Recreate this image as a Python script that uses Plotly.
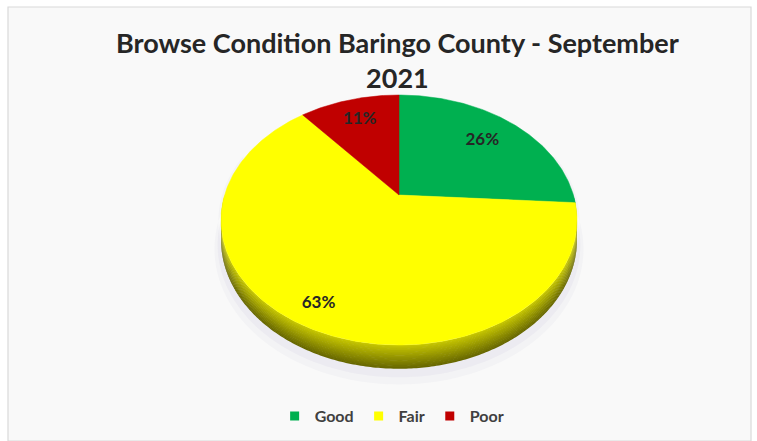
import numpy as np
import plotly.graph_objects as go

# Browse condition shares, Baringo County, September 2021
categories = ["Good", "Fair", "Poor"]
shares = [26, 63, 11]

# slice colours (top face) and the rim-to-base tones of their side walls
top_colors = ["#00b050", "#ffff00", "#c00000"]
wall_tones = [((0, 150, 68), (0, 100, 46)),
              ((196, 196, 0), (104, 104, 0)),
              ((160, 0, 0), (100, 0, 0))]
N_BANDS = 14

TITLE = "Browse Condition Baringo County - September<br>2021"

# 3D pie geometry in page pixels (perspective view of a tilted disc)
W, H = 757, 441
CX, CY = 399.0, 195.0      # where the slices meet
SX, SV = 174.4, 120.0      # horizontal / vertical scale of the disc
K = 0.2                    # perspective strength
DEPTH = 19.0               # thickness of the disc
START = 90.0               # first slice starts at 12 o'clock, clockwise
LABEL_R = [0.72, 0.86, 0.76]


def project(r, t_deg, drop=0.0):
    t = np.radians(t_deg)
    X = r * np.cos(t)
    Z = r * np.sin(t)
    den = 1.0 + K * Z
    return CX + SX * X / den, CY - (SV * Z - drop) / den


def arc(a_from, a_to, r=1.0, drop=0.0, n=None):
    if n is None:
        n = max(4, int(abs(a_to - a_from) * 1.5))
    ts = np.linspace(a_from, a_to, n)
    return project(r, ts, drop)


def mix(c0, c1, f):
    return "rgb(%d,%d,%d)" % tuple(round(a + (b - a) * f) for a, b in zip(c0, c1))


total = float(sum(shares))
bounds = []
a = START
for v in shares:
    sweep = 360.0 * v / total
    bounds.append((a, a - sweep))
    a -= sweep

fig = go.Figure()

# faint shadow below the disc
for grow, extra, alpha in [(1.035, 7, 0.07), (1.018, 4, 0.10)]:
    xs, ys = arc(-200, 20, r=grow, drop=DEPTH + extra, n=200)
    xt, yt = arc(20, -200, r=grow * 0.98, drop=0, n=200)
    fig.add_trace(go.Scatter(
        x=np.concatenate([xs, xt]), y=np.concatenate([ys, yt]),
        fill="toself", mode="none", fillcolor=f"rgba(175,170,205,{alpha})",
        hoverinfo="skip", showlegend=False))

# side wall: front half of the disc, shaded from rim to base
for i, (a0, a1) in enumerate(bounds):
    for lo, hi in [(-180.0, 0.0), (180.0, 360.0), (-540.0, -360.0)]:
        s_hi = min(a0, hi)
        s_lo = max(a1, lo)
        if s_hi <= s_lo:
            continue
        c_top, c_bot = wall_tones[i]
        for b in range(N_BANDS):
            d0 = DEPTH * b / N_BANDS
            d1 = min(DEPTH, DEPTH * (b + 1) / N_BANDS + 0.5)
            col = mix(c_top, c_bot, b / (N_BANDS - 1))
            xu, yu = arc(s_hi, s_lo, drop=d0)
            xl, yl = arc(s_lo, s_hi, drop=d1)
            fig.add_trace(go.Scatter(
                x=np.concatenate([xu, xl]), y=np.concatenate([yu, yl]),
                fill="toself", mode="none", fillcolor=col,
                hoverinfo="skip", showlegend=False))

# top face slices
for i, (a0, a1) in enumerate(bounds):
    xa, ya = arc(a0, a1)
    fig.add_trace(go.Scatter(
        x=np.concatenate([[CX], xa, [CX]]), y=np.concatenate([[CY], ya, [CY]]),
        fill="toself", mode="lines", line=dict(color=top_colors[i], width=0.5),
        fillcolor=top_colors[i], hoverinfo="skip", showlegend=False))

# percentage labels
lx, ly, lt = [], [], []
for i, (a0, a1) in enumerate(bounds):
    px, py = project(LABEL_R[i], (a0 + a1) / 2.0)
    lx.append(px)
    ly.append(py)
    lt.append(f"{shares[i]}%")
fig.add_trace(go.Scatter(
    x=lx, y=ly, text=lt, mode="text", textposition="middle center",
    textfont=dict(family="Lato", size=17, color="#262626", weight="bold"),
    hoverinfo="skip", showlegend=False))

# legend entries
for cat, c in zip(categories, top_colors):
    fig.add_trace(go.Scatter(
        x=[None], y=[None], mode="markers", name=cat,
        marker=dict(symbol="square", size=9, color=c)))

fig.update_layout(
    width=W, height=H,
    margin=dict(l=0, r=0, t=0, b=0),
    paper_bgcolor="white", plot_bgcolor="rgba(0,0,0,0)",
    xaxis=dict(range=[0, W], visible=False, fixedrange=True),
    yaxis=dict(range=[H, 0], visible=False, fixedrange=True),
    annotations=[dict(
        text=TITLE, xref="paper", yref="paper", x=398 / W, y=1 - 24 / H,
        xanchor="center", yanchor="top", showarrow=False, align="center",
        font=dict(family="Lato", size=27, color="#262626", weight="bold"))],
    legend=dict(
        orientation="h", x=0.518, xanchor="center", y=1 - 416 / H,
        yanchor="middle", bgcolor="rgba(0,0,0,0)",
        font=dict(family="Lato", size=16, color="#404040", weight="bold"),
        itemwidth=30, tracegroupgap=0),
    shapes=[dict(type="rect", xref="x", yref="y", x0=8, y0=7, x1=751, y1=441,
                 line=dict(color="#d9d9d9", width=1.2), fillcolor="#f9f9f9",
                 layer="below")],
    showlegend=True,
)

fig.write_html("out.html")
